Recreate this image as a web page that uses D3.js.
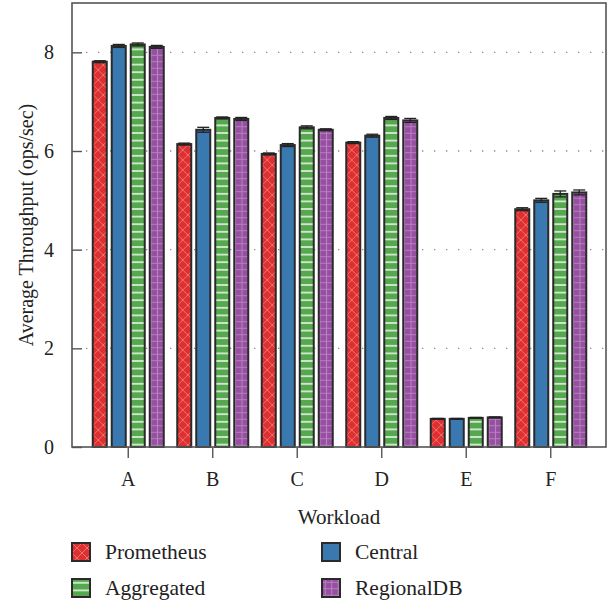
<!DOCTYPE html>
<html>
<head>
<meta charset="UTF-8">
<title>Average Throughput</title>
<style>
  body { margin: 0; background: #fff; }
  text { font-family: "Liberation Serif", "DejaVu Serif", serif; fill: #222; }
</style>
</head>
<body>
<svg id="chart"></svg>
<script src="https://d3js.org/d3.v7.min.js"></script>
<script>
// workloads and series
var workloads = ["A", "B", "C", "D", "E", "F"];
var seriesNames = ["Prometheus", "Central", "Aggregated", "RegionalDB"];

// mean throughput per workload (ops/sec)
var prometheus = [7.81, 6.14, 5.94, 6.17, 0.57, 4.82];
var central    = [8.13, 6.43, 6.12, 6.31, 0.57, 5.00];
var aggregated = [8.16, 6.67, 6.48, 6.67, 0.59, 5.13];
var regionalDB = [8.11, 6.65, 6.43, 6.62, 0.60, 5.16];

// error (half height of bars)
var prometheusErr = [0.02, 0.02, 0.02, 0.02, 0.01, 0.03];
var centralErr    = [0.03, 0.05, 0.03, 0.03, 0.01, 0.04];
var aggregatedErr = [0.03, 0.02, 0.03, 0.03, 0.01, 0.06];
var regionalDBErr = [0.03, 0.03, 0.02, 0.04, 0.01, 0.05];

var yTicks = [0, 2, 4, 6, 8];

var values = [prometheus, central, aggregated, regionalDB];
var errors = [prometheusErr, centralErr, aggregatedErr, regionalDBErr];
var colors = ["#df2f2f", "#3a78b0", "#55a84e", "#974fa2"];
var fills = ["url(#pRed)", "#3a78b0", "url(#pGreen)", "url(#pPurple)"];

var W = 613, H = 603;
var pLeft = 72, pRight = 606, pTop = 3, pBottom = 447;

var svg = d3.select("#chart").attr("width", W).attr("height", H);

// patterns
var defs = svg.append("defs");
var p = defs.append("pattern").attr("id", "pRed").attr("patternUnits", "userSpaceOnUse")
  .attr("width", 10).attr("height", 10);
p.append("rect").attr("width", 10).attr("height", 10).attr("fill", colors[0]);
p.append("path").attr("d", "M0,0L10,10M10,0L0,10M-1,9L1,11M9,-1L11,1M-1,1L1,-1M9,11L11,9")
  .attr("stroke", "#fff").attr("stroke-opacity", 0.33).attr("stroke-width", 1);

p = defs.append("pattern").attr("id", "pGreen").attr("patternUnits", "userSpaceOnUse")
  .attr("width", 10).attr("height", 7.6);
p.append("rect").attr("width", 10).attr("height", 7.6).attr("fill", colors[2]);
p.append("line").attr("x1", 0).attr("x2", 10).attr("y1", 3.8).attr("y2", 3.8)
  .attr("stroke", "#fff").attr("stroke-opacity", 0.9).attr("stroke-width", 1.5);

p = defs.append("pattern").attr("id", "pPurple").attr("patternUnits", "userSpaceOnUse")
  .attr("width", 6.5).attr("height", 6.5);
p.append("rect").attr("width", 6.5).attr("height", 6.5).attr("fill", colors[3]);
p.append("path").attr("d", "M3.25,0V6.5M0,3.25H6.5")
  .attr("stroke", "#fff").attr("stroke-opacity", 0.3).attr("stroke-width", 1);

// scales
var x = d3.scaleBand().domain(workloads).range([86, 593]);
var xs = d3.scaleBand().domain(seriesNames).range([-38, 38]).paddingInner(0.263).paddingOuter(0.1315);
var y = d3.scaleLinear().domain([0, 9]).range([pBottom, pTop]);

// dotted grid
svg.append("g").selectAll("line").data(yTicks.filter(function (d) { return d > 0; })).enter()
  .append("line")
  .attr("x1", pLeft + 14).attr("x2", pRight)
  .attr("y1", function (d) { return y(d); }).attr("y2", function (d) { return y(d); })
  .attr("stroke", "#888").attr("stroke-width", 1.3)
  .attr("stroke-dasharray", "1.3,10.7");

// bars
var groups = svg.append("g").selectAll("g").data(workloads).enter().append("g")
  .attr("transform", function (d) { return "translate(" + (x(d) + x.bandwidth() / 2) + ",0)"; });

groups.each(function (w, wi) {
  var g = d3.select(this);
  seriesNames.forEach(function (s, si) {
    var v = values[si][wi];
    g.append("rect")
      .attr("x", xs(s)).attr("width", xs.bandwidth())
      .attr("y", y(v)).attr("height", y(0) - y(v))
      .attr("fill", fills[si])
      .attr("stroke", "#2a2a2a").attr("stroke-width", 2);
    var e = errors[si][wi];
    var cx = xs(s) + xs.bandwidth() / 2;
    var eb = g.append("g").attr("stroke", "#222").attr("stroke-width", 1.3);
    eb.append("line").attr("x1", cx).attr("x2", cx).attr("y1", y(v + e)).attr("y2", y(v - e));
    eb.append("line").attr("x1", cx - 6).attr("x2", cx + 6).attr("y1", y(v + e)).attr("y2", y(v + e));
    eb.append("line").attr("x1", cx - 6).attr("x2", cx + 6).attr("y1", y(v - e)).attr("y2", y(v - e));
  });
});

// frame
svg.append("rect").attr("x", pLeft).attr("y", pTop).attr("width", pRight - pLeft).attr("height", pBottom - pTop)
  .attr("fill", "none").attr("stroke", "#555").attr("stroke-width", 1.6);

// y axis
var yAxis = svg.append("g").attr("transform", "translate(" + pLeft + ",0)")
  .call(d3.axisLeft(y).tickValues(yTicks).tickSize(-10).tickPadding(18).tickFormat(d3.format("d")));
yAxis.select(".domain").remove();
yAxis.selectAll(".tick line").attr("stroke", "#555").attr("stroke-width", 1.4);
yAxis.selectAll(".tick text").attr("font-size", 20).attr("font-family", null).attr("fill", "#222");

// x axis
var xAxis = svg.append("g").attr("transform", "translate(0," + pBottom + ")")
  .call(d3.axisBottom(x).tickSize(11).tickPadding(14));
xAxis.select(".domain").remove();
xAxis.selectAll(".tick line").attr("stroke", "#555").attr("stroke-width", 1.4);
xAxis.selectAll(".tick text").attr("font-size", 20).attr("font-family", null).attr("fill", "#222");

// axis titles
svg.append("text").attr("x", (pLeft + pRight) / 2).attr("y", 524)
  .attr("text-anchor", "middle").attr("font-size", 21).text("Workload");
svg.append("text").attr("transform", "translate(33," + (pTop + pBottom) / 2 + ") rotate(-90)")
  .attr("text-anchor", "middle").attr("font-size", 20).text("Average Throughput (ops/sec)");

// legend
var legendPos = [[72, 543], [322, 543], [72, 579], [322, 579]];
var order = [0, 1, 2, 3];
var legend = svg.append("g").selectAll("g").data(order).enter().append("g")
  .attr("transform", function (d) { return "translate(" + legendPos[d][0] + "," + legendPos[d][1] + ")"; });
legend.append("rect").attr("width", 18).attr("height", 18)
  .attr("fill", function (d) { return fills[d]; })
  .attr("stroke", "#2a2a2a").attr("stroke-width", 2);
legend.append("text").attr("x", 33).attr("y", 16).attr("font-size", 21.5)
  .text(function (d) { return seriesNames[d]; });
</script>
</body>
</html>
